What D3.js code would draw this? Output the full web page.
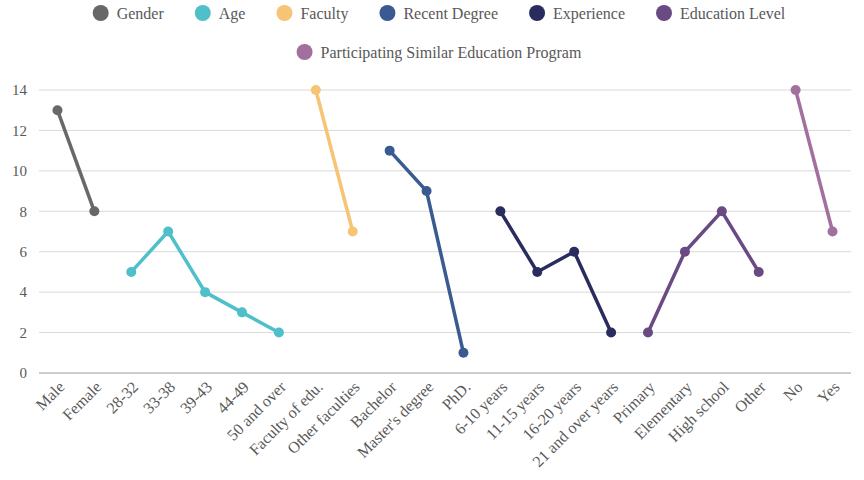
<!DOCTYPE html>
<html>
<head>
<meta charset="utf-8">
<script src="https://cdn.jsdelivr.net/npm/d3@7"></script>
<style>
  body { margin: 0; background: #fff; }
  svg text { font-family: "Liberation Serif", "Times New Roman", "DejaVu Serif", serif; fill: #595959; }
</style>
</head>
<body>
<svg class="chart" width="864" height="480"></svg>
<script>
// categories along the x axis
var categories = ["Male", "Female", "28-32", "33-38", "39-43", "44-49", "50 and over",
  "Faculty of edu.", "Other faculties", "Bachelor", "Master's degree", "PhD.",
  "6-10 years", "11-15 years", "16-20 years", "21 and over years",
  "Primary", "Elementary", "High school", "Other", "No", "Yes"];

var seriesNames = ["Gender", "Age", "Faculty", "Recent Degree", "Experience",
  "Education Level", "Participating Similar Education Program"];
var seriesColors = ["#686868", "#4fbfc9", "#f6c473", "#3a5a92", "#2a2c5f", "#6a4a82", "#a2709e"];

var genderCats = ["Male", "Female"];
var genderVals = [13, 8];
var ageCats = ["28-32", "33-38", "39-43", "44-49", "50 and over"];
var ageVals = [5, 7, 4, 3, 2];
var facultyCats = ["Faculty of edu.", "Other faculties"];
var facultyVals = [14, 7];
var degreeCats = ["Bachelor", "Master's degree", "PhD."];
var degreeVals = [11, 9, 1];
var experienceCats = ["6-10 years", "11-15 years", "16-20 years", "21 and over years"];
var experienceVals = [8, 5, 6, 2];
var educationCats = ["Primary", "Elementary", "High school", "Other"];
var educationVals = [2, 6, 8, 5];
var participatingCats = ["No", "Yes"];
var participatingVals = [14, 7];

var yTicks = [0, 2, 4, 6, 8, 10, 12, 14];

var catLists = [genderCats, ageCats, facultyCats, degreeCats, experienceCats, educationCats, participatingCats];
var valLists = [genderVals, ageVals, facultyVals, degreeVals, experienceVals, educationVals, participatingVals];

var series = seriesNames.map(function(name, i) {
  return {
    name: name,
    color: seriesColors[i],
    points: catLists[i].map(function(c, j) { return {cat: c, val: valLists[i][j]}; })
  };
});

var plotLeft = 39, plotRight = 851, plotTop = 90, plotBottom = 373;
var fontFam = "'Liberation Serif', 'Times New Roman', serif";

var svg = d3.select(".chart");

var x = d3.scalePoint()
  .domain(categories)
  .range([plotLeft, plotRight])
  .padding(0.5);

var y = d3.scaleLinear()
  .domain([0, 14])
  .range([plotBottom, plotTop]);

// gridlines
svg.append("g")
  .selectAll("line")
  .data(yTicks)
  .enter()
  .append("line")
  .attr("x1", plotLeft)
  .attr("x2", plotRight)
  .attr("y1", function(d) { return y(d); })
  .attr("y2", function(d) { return y(d); })
  .attr("stroke", function(d) { return d === 0 ? "#bcbcbc" : "#d9d9d9"; })
  .attr("stroke-width", function(d) { return d === 0 ? 1.5 : 1; });

// y labels
svg.append("g")
  .selectAll("text")
  .data(yTicks)
  .enter()
  .append("text")
  .text(function(d) { return d; })
  .attr("x", 27)
  .attr("y", function(d) { return y(d); })
  .attr("dy", "0.35em")
  .attr("text-anchor", "end")
  .attr("font-family", fontFam)
  .attr("font-size", "15px");

// x labels
svg.append("g")
  .selectAll("text")
  .data(categories)
  .enter()
  .append("text")
  .text(function(d) { return d; })
  .attr("text-anchor", "end")
  .attr("font-family", fontFam)
  .attr("font-size", "16px")
  .attr("transform", function(d) {
    return "translate(" + (x(d) + 8) + "," + 388 + ") rotate(-45)";
  });

// lines
var line = d3.line()
  .x(function(d) { return x(d.cat); })
  .y(function(d) { return y(d.val); });

var groups = svg.append("g")
  .selectAll("g")
  .data(series)
  .enter()
  .append("g");

groups.append("path")
  .attr("d", function(d) { return line(d.points); })
  .attr("fill", "none")
  .attr("stroke", function(d) { return d.color; })
  .attr("stroke-width", 3.5);

groups.selectAll("circle")
  .data(function(d) { return d.points.map(function(p) { return {cat: p.cat, val: p.val, color: d.color}; }); })
  .enter()
  .append("circle")
  .attr("cx", function(d) { return x(d.cat); })
  .attr("cy", function(d) { return y(d.val); })
  .attr("r", 5)
  .attr("fill", function(d) { return d.color; });

// legend, two rows centred
var legendRows = [[0, 1, 2, 3, 4, 5], [6]];
var legend = svg.append("g");

legendRows.forEach(function(row, r) {
  var g = legend.append("g");
  var cx = 0;
  row.forEach(function(i) {
    var item = g.append("g").attr("transform", "translate(" + cx + ",0)");
    item.append("circle")
      .attr("cx", 0)
      .attr("cy", 0)
      .attr("r", 8)
      .attr("fill", seriesColors[i]);
    var t = item.append("text")
      .text(seriesNames[i])
      .attr("x", 16)
      .attr("dy", "0.35em")
      .attr("font-family", fontFam)
      .attr("font-size", "16px");
    cx += 16 + t.node().getComputedTextLength() + 39;
  });
  var w = cx - 39 + 8;
  g.attr("transform", "translate(" + (439 - w / 2 + 8) + "," + (13 + r * 39) + ")");
});
</script>
</body>
</html>
